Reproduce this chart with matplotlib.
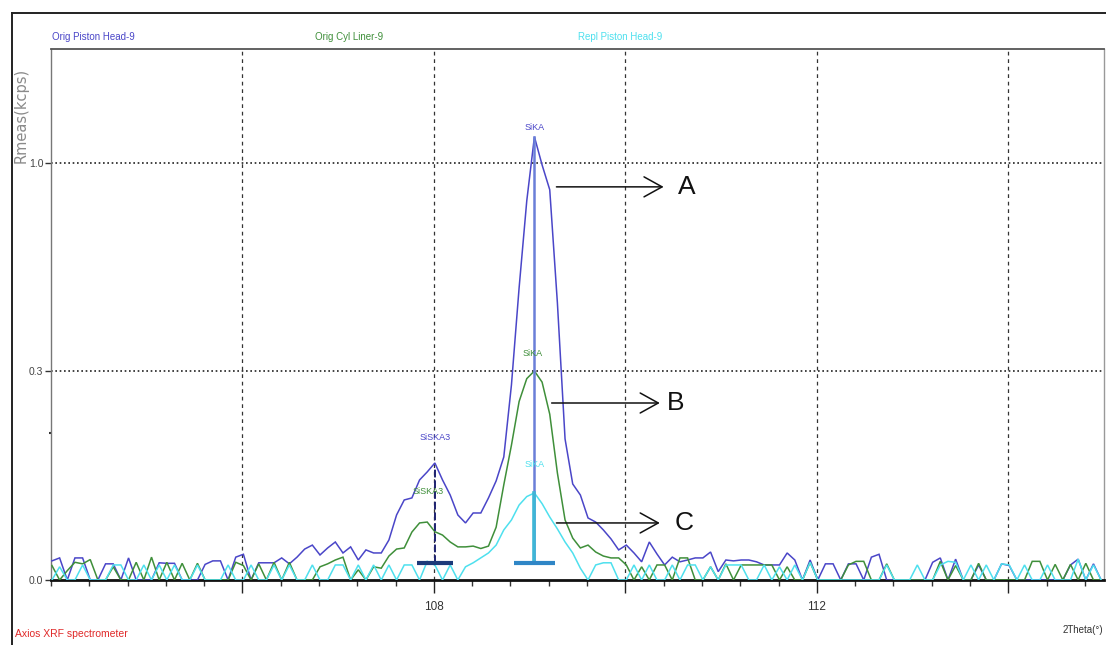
import numpy as np
import matplotlib
matplotlib.use("Agg")
import matplotlib.pyplot as plt
from matplotlib.lines import Line2D
from matplotlib.ticker import FixedLocator, MultipleLocator

# ---------------- data (Rmeas in kcps vs 2Theta in degrees) ----------------
scan_start = 104.01
scan_step = 0.08

series_names = ["Orig Piston Head-9", "Orig Cyl Liner-9", "Repl Piston Head-9"]

orig_piston = [
    .0021, .0028, 0, .0028, .0028, 0, 0, .0015, .0015, 0,
    .0028, 0, 0, 0, .0017, .0016, .0016, 0, 0, 0,
    .0014, .0021, .0021, 0, .0030, .0038, 0, .0017, .0017, .0017,
    .0028, .0015, .0030, .0055, .0070, .0036, .0059, .0083, .0042, .0063,
    .0023, .0052, .0042, .0042, .0092, .0243, .0368, .0387, .0575, .0671,
    .0787, .0575, .0415, .0243, .0187, .0258, .0258, .0387, .0564, .0870,
    .2187, .4904, .8260, 1.1286, .9900, .8750, .4410, .1143, .0530, .0415,
    .0221, .0193, .0144, .0097, .0052, .0070, .0042, .0019, .0083, .0039,
    .0013, .0030, .0019, .0023, .0028, .0028, .0045, .0004, .0023, .0021,
    .0023, .0023, .0019, .0013, .0013, .0013, .0042, .0023, 0, .0023,
    0, .0015, .0015, 0, .0015, .0015, 0, .0030, .0038, 0,
    0, 0, 0, 0, 0, .0018, .0028, 0, .0025, 0,
    0, .0013, 0, 0, .0015, .0012, 0, 0, 0, 0,
    0, 0, 0, .0013, .0025, 0, .0015, 0,
]

orig_liner = [
    .0012, 0, .0005, .0018, .0015, .0024, 0, 0, .0010, 0,
    0, .0018, 0, .0030, 0, .0018, 0, .0016, 0, .0016,
    0, 0, 0, 0, .0018, .0012, 0, .0015, 0, .0018,
    0, .0018, 0, 0, 0, .0010, .0015, .0023, .0030, 0,
    .0006, 0, .0010, .0008, .0033, .0055, .0059, .0132, .0187, .0193,
    .0134, .0116, .0083, .0063, .0063, .0066, .0057, .0066, .0160, .0520,
    .1045, .1830, .2330, .2510, .2250, .1580, .0658, .0207, .0101, .0059,
    .0070, .0045, .0033, .0028, .0028, .0013, 0, .0010, 0, .0013,
    .0013, 0, .0028, .0028, 0, 0, .0010, 0, .0015, 0,
    .0013, .0013, .0013, .0013, .0013, 0, .0010, 0, 0, .0018,
    0, 0, 0, 0, .0013, .0020, .0020, 0, 0, .0015,
    0, 0, 0, 0, 0, 0, .0020, 0, .0012, 0,
    0, .0016, 0, 0, 0, 0, 0, 0, .0020, .0020,
    0, .0014, 0, .0014, 0, .0016, 0, 0,
]

repl_piston = [
    0, .0010, 0, 0, .0013, 0, 0, 0, .0013, .0013,
    0, 0, .0013, 0, .0013, 0, .0013, 0, 0, .0013,
    0, 0, 0, .0013, 0, 0, .0013, 0, 0, .0013,
    0, .0013, 0, 0, .0013, 0, 0, .0013, .0013, 0,
    .0013, 0, .0013, 0, .0013, 0, .0013, .0013, 0, .0020,
    .0013, 0, .0013, 0, .0010, .0017, .0028, .0042, .0070, .0144,
    .0207, .0323, .0400, .0435, .0335, .0228, .0150, .0083, .0042, .0008,
    0, .0013, .0017, .0017, 0, 0, .0013, 0, .0013, 0,
    0, .0013, 0, .0013, .0013, 0, .0010, 0, .0013, .0013,
    .0013, 0, 0, .0013, 0, .0010, 0, .0013, 0, .0018,
    0, 0, 0, 0, 0, 0, 0, 0, 0, .0013,
    0, 0, 0, .0013, 0, 0, .0013, .0020, .0018, 0,
    .0013, 0, .0013, 0, .0015, .0013, 0, .0013, 0, 0,
    .0013, 0, 0, 0, .0025, 0, .0013, 0,
]

# peak markers
marker_names = ["SiKA", "SiSKA3"]
marker_pos = [109.05, 108.01]
marker_top = [1.1286, 0.0734]
marker_base = 0.0017
marker_halfwidth = [0.21, 0.19]

# peak labels: (text, x, y, series index)
peak_labels = [
    ("SiKA", 109.05, 1.175, 0),
    ("SiKA", 109.03, 0.296, 1),
    ("SiKA", 109.05, 0.076, 2),
    ("SiSKA3", 108.01, 0.116, 0),
    ("SiSKA3", 107.94, 0.0445, 1),
]

# annotation arrows: (label, x_start, x_end, y, x_text)
arrows = [
    ("A", 109.28, 110.40, 0.888, 110.64),
    ("B", 109.23, 110.36, 0.180, 110.53),
    ("C", 109.28, 110.36, 0.0187, 110.61),
]

y_ticks = [0.0, 0.25, 1.0]
y_tick_labels = ["0.0", "0.3", "1.0"]
x_major = [106, 108, 110, 112, 114]
x_major_labels = ["", "108", "", "112", ""]

# ---------------- drawing ----------------
W, H = 1106, 645
fig = plt.figure(figsize=(W / 100, H / 100), dpi=100)
fig.patch.set_facecolor("white")
ax = fig.add_axes([51 / W, 1 - 580 / H, (1104 - 51) / W, (580 - 49) / H])

fwd = lambda v: np.sqrt(np.maximum(v, 0))
inv = lambda v: np.square(v)
ax.set_yscale("function", functions=(fwd, inv))

colors = ["#4a46c8", "#3f8f3a", "#4ee0ee"]
x = scan_start + scan_step * np.arange(len(orig_piston))
for vals, c in zip([orig_piston, orig_liner, repl_piston], colors):
    ax.plot(x, vals, color=c, lw=1.1, zorder=3, solid_joinstyle="miter")

# peak markers
# SiKA
ax.plot([marker_pos[0], marker_pos[0]], [marker_base, marker_top[0]],
        color="#6a7fd8", lw=1.8, zorder=4)
ax.plot([marker_pos[0], marker_pos[0]], [marker_base, max(repl_piston)],
        color="#3fb6d6", lw=2.6, zorder=4)
ax.plot([marker_pos[0] - marker_halfwidth[0], marker_pos[0] + marker_halfwidth[0]],
        [marker_base, marker_base], color="#2f86c6", lw=3.0, zorder=4,
        solid_capstyle="butt")
# SiSKA3
ax.plot([marker_pos[1], marker_pos[1]], [marker_base, marker_top[1]],
        color="#1f2370", lw=1.4, ls=(0, (4, 1.5)), zorder=4)
ax.plot([marker_pos[1] - marker_halfwidth[1], marker_pos[1] + marker_halfwidth[1]],
        [marker_base, marker_base], color="#1c3a7a", lw=3.0, zorder=4,
        solid_capstyle="butt")

for txt, px, py, si in peak_labels:
    ax.text(px, py, txt, color=colors[si], fontsize=6.5, ha="center",
            va="center", family="Liberation Sans", zorder=5)

for lab, x0, x1, yy, xt in arrows:
    ax.annotate("", xy=(x1, yy), xytext=(x0, yy),
                arrowprops=dict(arrowstyle="->,head_length=0.65,head_width=0.36",
                                color="#111111", lw=1.1, mutation_scale=20,
                                shrinkA=0, shrinkB=0), zorder=6)
    ax.text(xt, yy, lab, fontsize=19, ha="center", va="center",
            family="Liberation Sans", color="#111111", zorder=6)

ax.set_xlim(104, 115)
ax.set_ylim(0, 1.62)

ax.xaxis.set_major_locator(FixedLocator(x_major))
ax.set_xticklabels(x_major_labels)
ax.xaxis.set_minor_locator(MultipleLocator(0.4))
ax.yaxis.set_major_locator(FixedLocator(y_ticks))
ax.set_yticklabels(y_tick_labels)
ax.yaxis.set_minor_locator(FixedLocator([0.125]))

ax.tick_params(axis="x", which="major", direction="out", length=9, width=1.0,
               color="#222222", pad=6, labelsize=8.5, labelcolor="#333333")
ax.tick_params(axis="x", which="minor", direction="out", length=4, width=1.0,
               color="#333333")
ax.tick_params(axis="y", which="major", direction="out", length=4, width=1.0,
               color="#333333", pad=1.5, labelsize=7.5, labelcolor="#444444")
ax.tick_params(axis="y", which="minor", direction="out", length=1.5, width=1.5,
               color="#333333")
for lab in ax.get_xticklabels() + ax.get_yticklabels():
    lab.set_family("Liberation Sans")

for gx in x_major:
    ax.axvline(gx, color="#333333", lw=0.9, ls=(0, (3, 3)), zorder=1)
for gy in y_ticks[1:]:
    ax.axhline(gy, color="#222222", lw=1.2, ls=(0, (1, 1.6)), zorder=1)

ax.spines["bottom"].set_color("#111111")
ax.spines["bottom"].set_linewidth(2.0)
ax.spines["left"].set_color("#777777")
ax.spines["left"].set_linewidth(1.0)
ax.spines["top"].set_color("#555555")
ax.spines["top"].set_linewidth(1.3)
ax.spines["right"].set_color("#999999")
ax.spines["right"].set_linewidth(1.0)

# outer frame
fig.add_artist(Line2D([12 / W, 1.0], [1 - 13 / H, 1 - 13 / H],
                      transform=fig.transFigure, color="#222222", lw=1.4))
fig.add_artist(Line2D([12 / W, 12 / W], [0.0, 1 - 13 / H],
                      transform=fig.transFigure, color="#222222", lw=1.4))

# series titles along the top
title_x = [52, 315, 578]
for name, tx, c in zip(series_names, title_x, colors):
    fig.text(tx / W, 1 - 37 / H, name, color=c, fontsize=7, ha="left",
             va="center", family="Liberation Sans")

fig.text(21 / W, 1 - 115 / H, "Rmeas(kcps)", rotation=90, color="#8a8a8a",
         fontsize=10.5, ha="center", va="center", family="DejaVu Sans")
fig.text(15 / W, 1 - 634 / H, "Axios XRF spectrometer", color="#e02828",
         fontsize=7.5, ha="left", va="center", family="Liberation Sans")
fig.text(1103 / W, 1 - 630 / H, "2Theta(°)", color="#333333",
         fontsize=7, ha="right", va="center", family="Liberation Sans")

fig.savefig("out.png", dpi=100)
